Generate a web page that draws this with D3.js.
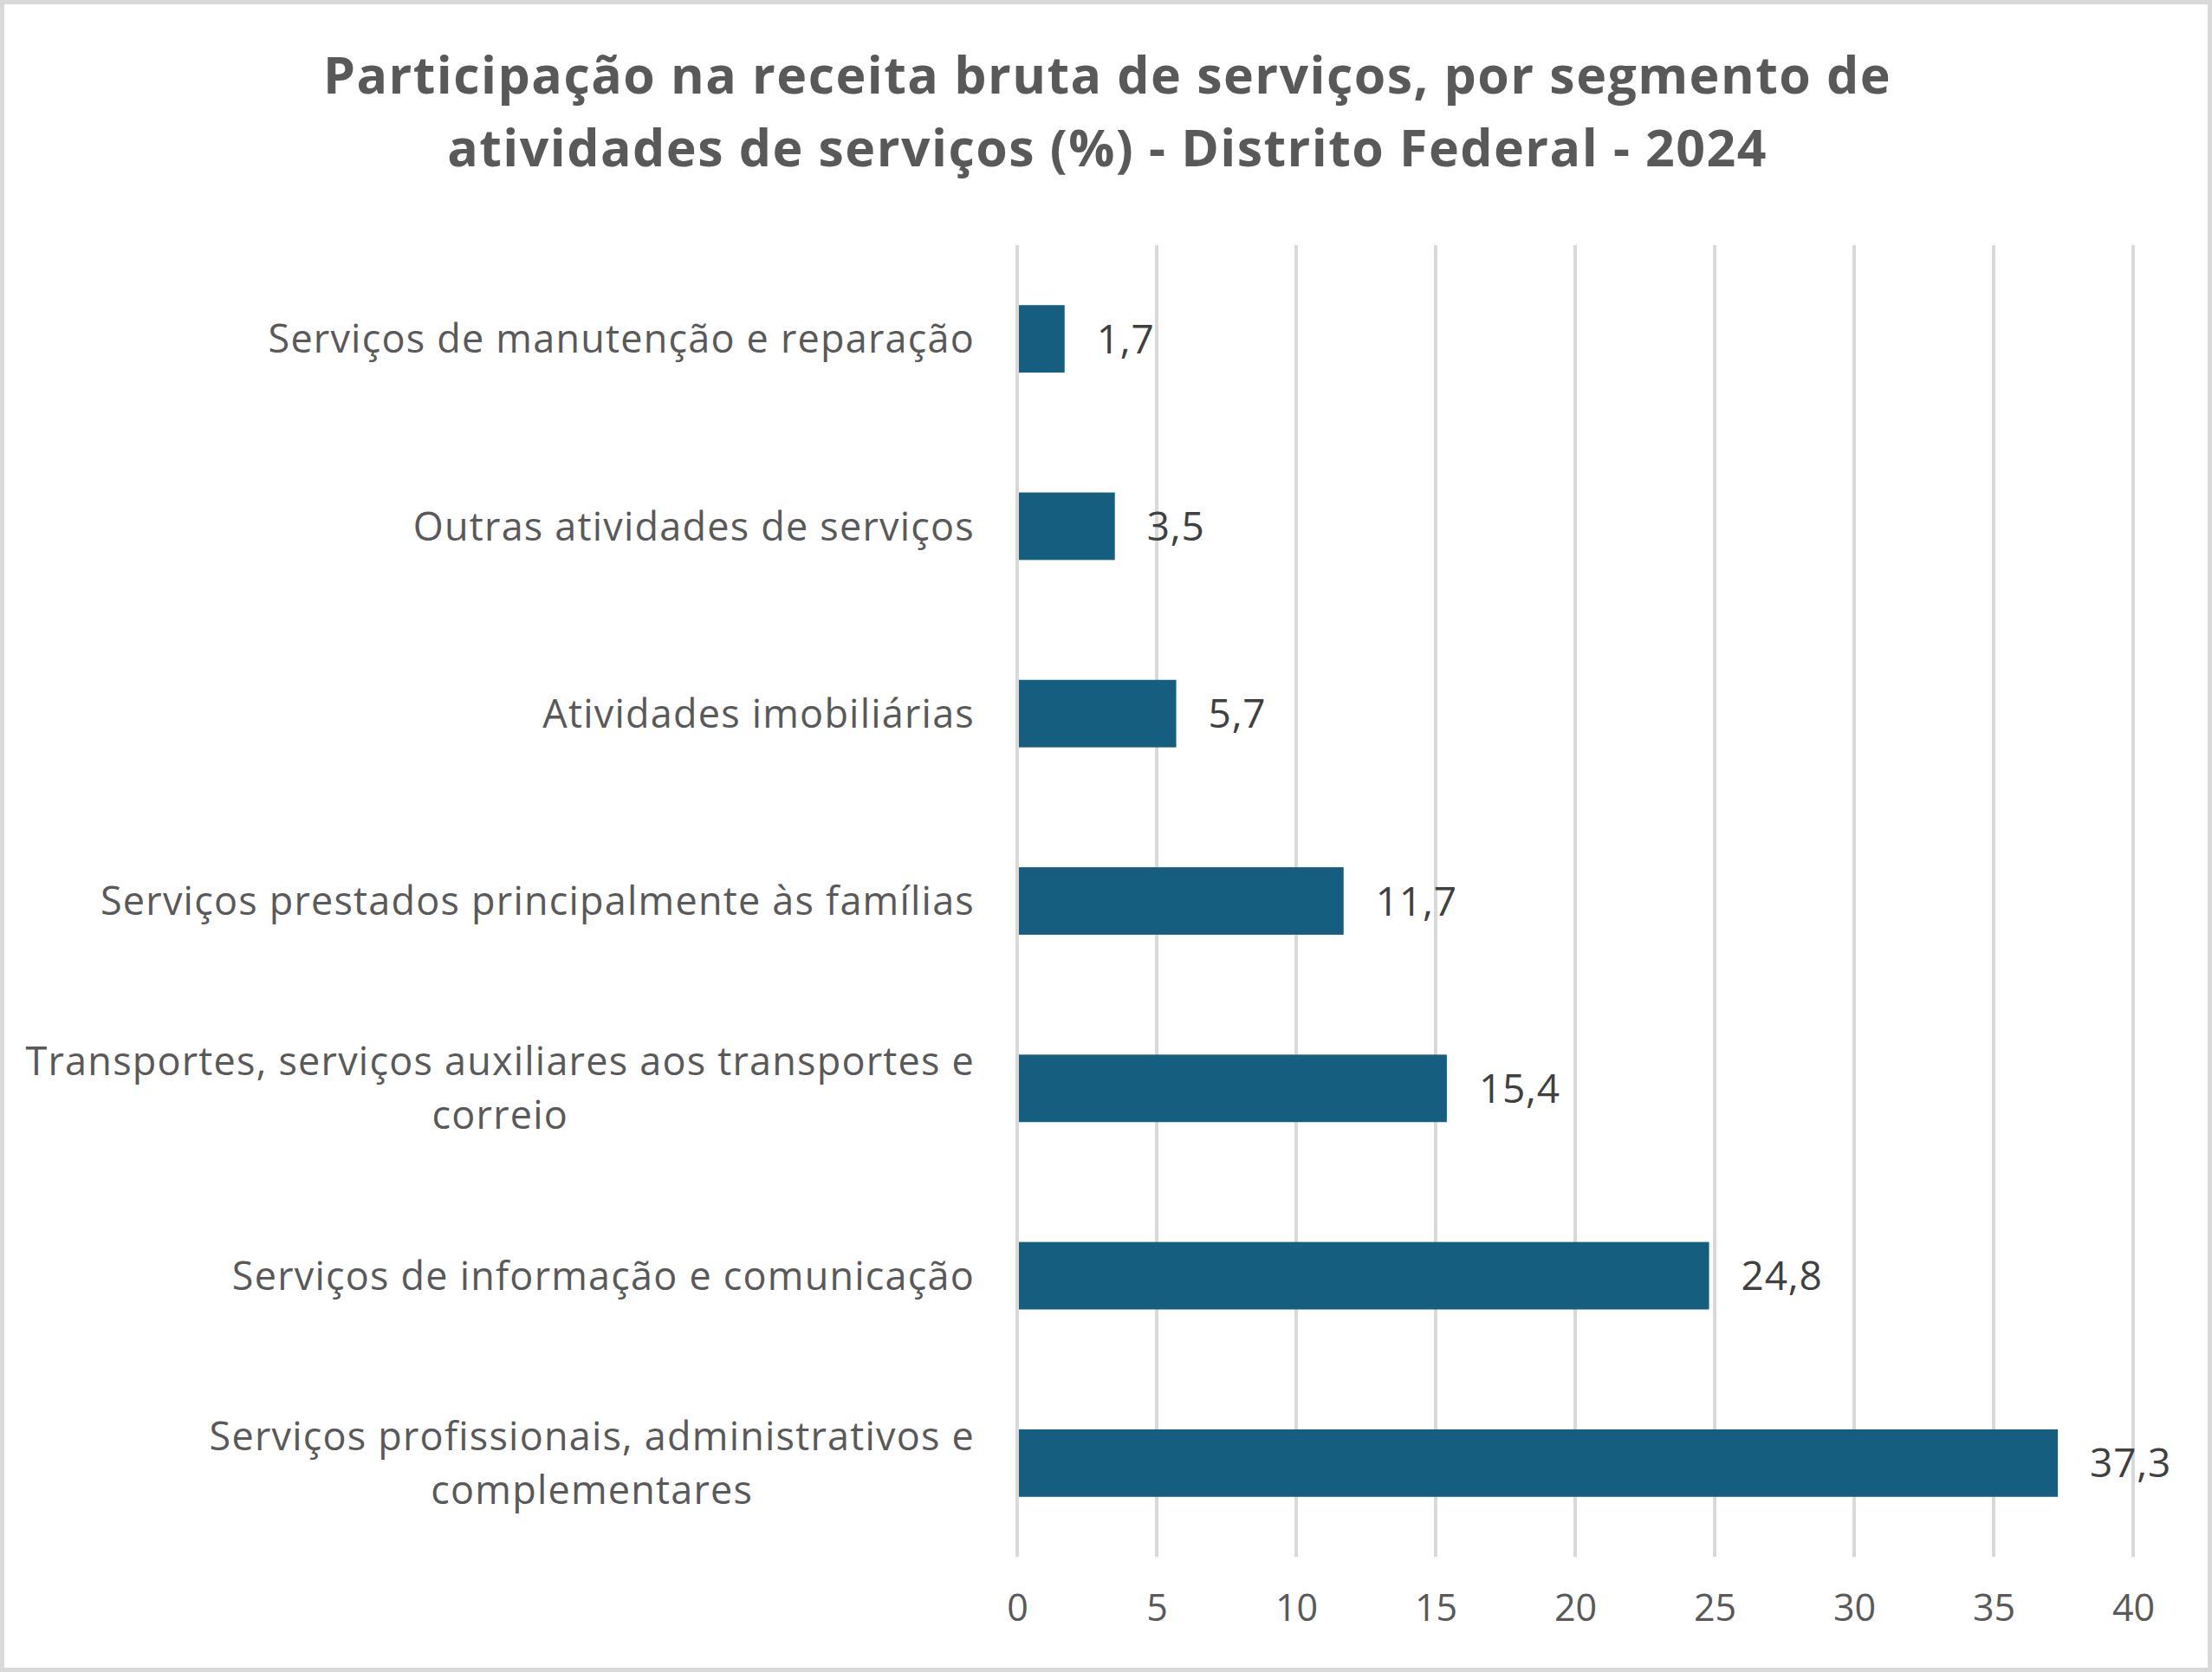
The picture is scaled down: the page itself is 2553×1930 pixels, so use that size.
<!DOCTYPE html>
<html>
<head>
<meta charset="utf-8">
<script src="https://cdn.jsdelivr.net/npm/d3@7"></script>
<style>
  body { margin: 0; background: #fff; }
  svg { display: block; }
</style>
</head>
<body>
<div id="container"></div>
<script>
// data
var categories = [
  ["Serviços de manutenção e reparação"],
  ["Outras atividades de serviços"],
  ["Atividades imobiliárias"],
  ["Serviços prestados principalmente às famílias"],
  ["Transportes, serviços auxiliares aos transportes e", "correio"],
  ["Serviços de informação e comunicação"],
  ["Serviços profissionais, administrativos e", "complementares"]
];
var values = [1.7, 3.5, 5.7, 11.7, 15.4, 24.8, 37.3];
var ticks = [0, 5, 10, 15, 20, 25, 30, 35, 40];
var titleLines = [
  "Participação na receita bruta de serviços, por segmento de",
  "atividades de serviços (%) - Distrito Federal - 2024"
];

var W = 2553, H = 1930;
var font = "'Open Sans', 'Liberation Sans', Arial, sans-serif";
var margin = { left: 1174, right: W - 2462, top: 283, bottom: H - 1797 };

var svg = d3.select("#container").append("svg")
    .attr("width", W)
    .attr("height", H);

svg.append("rect")
    .attr("x", 2.5).attr("y", 2.5)
    .attr("width", W - 5).attr("height", H - 5)
    .attr("fill", "white")
    .attr("stroke", "#d9d9d9")
    .attr("stroke-width", 5);

// title
svg.append("g").selectAll("text")
  .data(titleLines)
  .enter()
  .append("text")
    .attr("x", 1278)
    .attr("y", function(d, i) { return 108 + i * 84; })
    .attr("text-anchor", "middle")
    .style("font-family", font)
    .style("font-weight", "bold")
    .style("font-size", "59px")
    .style("letter-spacing", "1.45px")
    .style("fill", "#595959")
    .text(function(d) { return d; });

var x = d3.scaleLinear()
    .domain([0, 40])
    .range([margin.left, W - margin.right]);

var y = d3.scaleBand()
    .domain(d3.range(categories.length))
    .range([margin.top, H - margin.bottom])
    .paddingInner(0.64)
    .paddingOuter(0.32);

// gridlines
svg.append("g").selectAll("line")
  .data(ticks)
  .enter()
  .append("line")
    .attr("x1", function(d) { return x(d); })
    .attr("x2", function(d) { return x(d); })
    .attr("y1", margin.top)
    .attr("y2", H - margin.bottom)
    .attr("stroke", "#d9d9d9")
    .attr("stroke-width", 4);

// x axis labels
var xAxis = svg.append("g")
    .attr("transform", "translate(0," + (H - margin.bottom) + ")")
    .call(d3.axisBottom(x).tickValues(ticks).tickSize(0).tickPadding(43));
xAxis.select(".domain").remove();
xAxis.selectAll("text")
    .style("font-family", font)
    .style("font-size", "43px")
    .style("fill", "#595959");

// bars
svg.append("g").selectAll("rect")
  .data(values)
  .enter()
  .append("rect")
    .attr("x", x(0) + 2)
    .attr("y", function(d, i) { return y(i); })
    .attr("width", function(d) { return x(d) - x(0) - 2; })
    .attr("height", y.bandwidth())
    .attr("fill", "#165e80");

// data labels
svg.append("g").selectAll("text")
  .data(values)
  .enter()
  .append("text")
    .attr("x", function(d) { return x(d) + 37; })
    .attr("y", function(d, i) { return y(i) + y.bandwidth() / 2; })
    .attr("dy", "0.36em")
    .style("font-family", font)
    .style("font-size", "46px")
    .style("letter-spacing", "0.8px")
    .style("fill", "#404040")
    .text(function(d) { return d3.format(".1f")(d).replace(".", ","); });

// category labels, wrapped lines centred on the widest line
var labelRight = 1125, lineH = 62;
var cat = svg.append("g").selectAll("g")
  .data(categories)
  .enter()
  .append("g")
    .attr("transform", function(d, i) {
      return "translate(0," + (y(i) + y.bandwidth() / 2) + ")";
    });

cat.each(function(lines) {
  var g = d3.select(this);
  var texts = g.selectAll("text")
    .data(lines)
    .enter()
    .append("text")
      .attr("y", function(d, j) { return (j - (lines.length - 1) / 2) * lineH; })
      .attr("dy", "0.36em")
      .style("font-family", font)
      .style("font-size", "45px")
      .style("letter-spacing", "1.2px")
      .style("fill", "#595959")
      .text(function(d) { return d; });
  var maxW = 0;
  texts.each(function() { maxW = Math.max(maxW, this.getComputedTextLength()); });
  texts.attr("text-anchor", "middle")
      .attr("x", labelRight - maxW / 2);
});
</script>
</body>
</html>
